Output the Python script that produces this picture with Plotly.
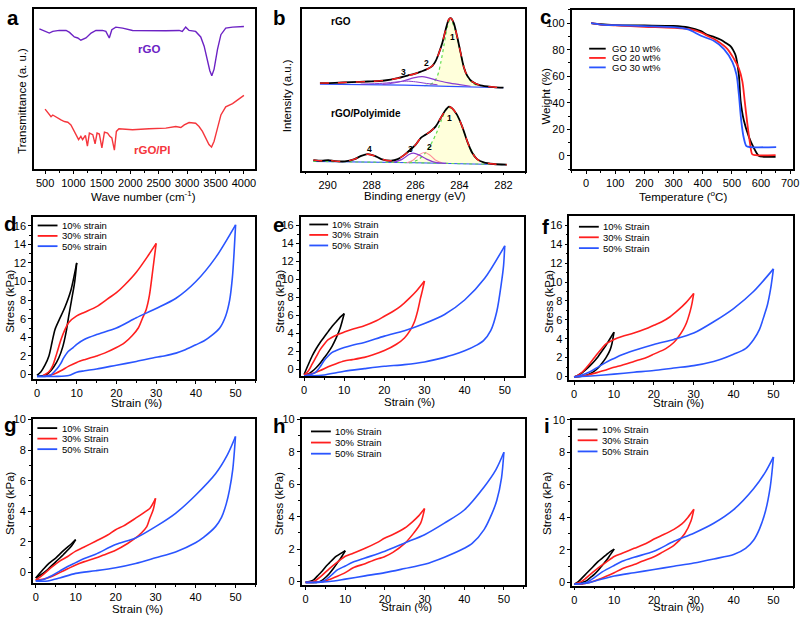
import plotly.graph_objects as go

W, H = 808, 619
FONT = "Liberation Sans, Arial, sans-serif"

# ---------------- DATA ----------------
# (a) FTIR
A_RGO_WN = [400, 575, 635, 750, 870, 930, 1015, 1075, 1130, 1220, 1310, 1395, 1510, 1570, 1630, 1675, 1745,
            1865, 2040, 2330, 2625, 2860, 2915, 2975, 3035, 3150, 3240, 3300, 3355, 3400, 3435, 3475, 3535,
            3595, 3680, 3800, 4000]
A_RGO_T = [86.6, 84, 85, 85.6, 85.6, 84.4, 81.6, 81, 79.6, 81, 84, 85.6, 85.6, 85, 81, 86, 87.6,
           87, 85.6, 85.4, 85.4, 85.6, 85, 87.6, 85.6, 85, 81.6, 76, 67, 61, 58, 62, 74,
           83, 87, 87.6, 88]
A_PI_WN = [500, 545, 605, 635, 720, 780, 840, 900, 955, 1015, 1055, 1090, 1130, 1160, 1210, 1245, 1280, 1340,
           1380, 1415, 1455, 1500, 1545, 1600, 1640, 1675, 1720, 1755, 1800, 2040, 2330, 2625, 2800, 2890,
           2950, 3035, 3150, 3210, 3270, 3330, 3385, 3430, 3475, 3535, 3595, 3680, 3800, 4000]
A_PI_T = [37.6, 35.6, 33, 34, 32, 31, 30, 29.6, 28, 24, 21, 19, 21, 19, 21.6, 15, 23, 22,
          16.4, 23, 22.4, 14, 23.6, 23, 21, 20, 12.6, 24, 25.6, 25, 25.6, 26, 27, 26.4,
          28, 29.4, 29, 27, 24, 20, 16, 14.4, 18, 26, 34, 39, 41, 46]

# (b) XPS C1s
B_RGO_BE = [290.35, 289.67, 288.92, 288.17, 287.41, 286.81, 286.36, 286.06, 285.76, 285.46, 285.23, 285.08,
            284.93, 284.78, 284.63, 284.48, 284.38, 284.26, 284.11, 283.95, 283.80, 283.65, 283.43, 283.05,
            282.45, 282.0]
B_RGO_I = [53.4, 53.6, 54, 54.4, 55, 56.4, 58, 59, 60.4, 62, 64, 67, 72, 78, 86, 92.4, 93, 90, 82, 72, 63, 58,
           54.4, 52, 51, 50.6]
B_RGO_BASE_BE = [290.35, 286.5, 284.5, 282.0]
B_RGO_BASE_I = [52.8, 52.2, 51.4, 50.6]
B_RGO_P1_BE = [285.6, 285.2, 285.0, 284.85, 284.7, 284.55, 284.45, 284.35, 284.2, 284.05, 283.9, 283.75, 283.6,
               283.4, 283.1]
B_RGO_P1_I = [51.8, 53.5, 58, 66, 77, 88, 91.6, 91, 86, 78, 69, 61.5, 56.5, 53.5, 51.5]
B_RGO_P2_BE = [287.5, 287.0, 286.5, 286.1, 285.7, 285.4, 285.0, 284.5, 284.0, 283.5]
B_RGO_P2_I = [52.6, 53.5, 55, 56.6, 57.4, 56.6, 55, 53.6, 52.5, 51.5]
B_RGO_P3_BE = [288.5, 287.5, 286.8, 286.4, 286.0, 285.5, 285.0]
B_RGO_P3_I = [52.8, 53.3, 54.2, 54.6, 54.2, 53.2, 52.4]

B_PI_BE = [290.65, 290.27, 289.97, 289.67, 289.22, 288.77, 288.47, 288.17, 287.86, 287.56, 287.11, 286.81,
           286.51, 286.21, 285.98, 285.76, 285.53, 285.31, 285.08, 284.86, 284.63, 284.48, 284.33, 284.11,
           283.88, 283.65, 283.43, 283.20, 282.90, 282.45, 281.85]
B_PI_I = [6.4, 6, 6.4, 5.8, 5.6, 7, 9, 10, 9, 7, 6, 7, 9.6, 13, 16, 20, 22, 24, 27, 32, 37, 39, 38, 34, 27, 18,
          11, 7, 5, 4, 3.6]
B_PI_BASE_BE = [290.65, 286.0, 281.85]
B_PI_BASE_I = [5.6, 4.8, 3.6]
B_PI_P1_BE = [286.3, 285.9, 285.6, 285.3, 285.0, 284.8, 284.55, 284.3, 284.1, 283.9, 283.65, 283.4, 283.2,
              282.9, 282.5]
B_PI_P1_I = [4.8, 6.5, 10, 16, 24.5, 31.5, 38.5, 37.5, 33.5, 27.5, 18, 11, 7, 5, 4]
B_PI_P2_BE = [286.4, 286.1, 285.85, 285.6, 285.35, 285.1, 284.8]
B_PI_P2_I = [4.8, 6.5, 9.5, 11, 9.5, 6.5, 4.7]
B_PI_P3_BE = [287.0, 286.6, 286.3, 286.1, 285.85, 285.5, 285.1, 284.6]
B_PI_P3_I = [5, 7, 9.8, 10.6, 9.6, 7, 5, 4.4]

# (c) TGA
C_LABELS = ["GO 10 wt%", "GO 20 wt%", "GO 30 wt%"]
C_T10 = [17, 50, 100, 200, 300, 350, 394, 416, 440, 462, 480, 496, 505, 513, 524, 530, 541, 558, 575, 592, 609, 650]
C_W10 = [100, 99.2, 98.6, 98.3, 97.9, 96.8, 94, 91.2, 89.5, 87.5, 85, 82.5, 79.5, 75.6, 61, 41.5, 26.8, 14.6, 6.1,
         0, -0.7, -0.7]
C_T20 = [17, 50, 100, 200, 300, 360, 394, 416, 450, 485, 507, 524, 536, 544, 553, 562, 570, 581, 650]
C_W20 = [100, 99, 98.3, 97.3, 96.5, 95.3, 93, 90.5, 86.6, 80.5, 73.2, 65.9, 56.1, 41.5, 24.4, 9.8, 1.2, 0.5, 0.5]
C_T30 = [17, 50, 100, 200, 300, 350, 394, 439, 473, 502, 516, 524, 532, 541, 550, 564, 652]
C_W30 = [100, 99, 98.5, 97.8, 97, 95.3, 90.5, 86.6, 80.5, 70.7, 61, 46.3, 26.8, 13.4, 7.3, 6.6, 6.6]

# (d)-(i) compression loops: strain (%) and stress (kPa), loading then unloading
D_LABELS = ["10% strain", "30% strain", "50% strain"]
S_LABELS = ["10% Strain", "30% Strain", "50% Strain"]

D10_X = [0, 1, 2, 3, 3.8, 4.5, 5.5, 7, 8.5, 10, 9.5, 8.7, 8, 7.3, 6.5, 5.5, 4.2, 3, 2, 1, 0]
D10_Y = [-0.1, 0.3, 1, 2, 3.5, 4.8, 5.8, 7.2, 9, 12, 10, 8, 6.3, 4.5, 3, 1.8, 0.8, 0.2, -0.1, -0.15, -0.15]
D30_X = [1.5, 3, 4, 5, 6, 7, 8, 10, 12, 15, 18, 20, 22, 25, 28, 30, 29.2, 28.3, 27.5, 26.6, 25.5, 24, 22, 20, 17,
         15, 12, 10, 8, 6, 4, 2.5, 1.5]
D30_Y = [-0.1, 0.3, 1, 2.3, 3.7, 4.8, 5.6, 6.3, 6.7, 7.3, 8.2, 8.8, 9.6, 11, 12.8, 14.1, 11.4, 8.5, 7, 6.1, 5.0,
         4.2, 3.4, 2.9, 2.3, 2.0, 1.6, 1.3, 0.9, 0.4, 0.0, -0.1, -0.1]
D50_X = [0, 2, 3.5, 5, 6, 6.6, 7.9, 9.1, 10, 12, 15, 20, 25, 30, 35, 40, 45, 50, 49.6, 49.2, 48.5, 47.5, 46, 44,
         42, 40, 37, 35, 32, 30, 25, 20, 15, 12, 10, 8, 5, 2, 0]
D50_Y = [-0.2, -0.2, -0.05, 0.6, 1.2, 1.7, 2.5, 2.9, 3.25, 3.8, 4.3, 5.0, 6.1, 7.1, 8.2, 10.0, 12.6, 16.1, 13,
         10.5, 8, 6.3, 5.0, 4.2, 3.6, 3.2, 2.6, 2.3, 2.0, 1.85, 1.4, 1.0, 0.6, 0.4, 0.25, -0.1, -0.2, -0.2, -0.2]

E10_X = [0, 1, 2, 3, 4, 5, 6, 7, 8, 9, 10, 9, 8, 7, 6, 5, 4, 3, 2, 1, 0]
E10_Y = [-0.55, 0.5, 1.5, 2.3, 3.0, 3.6, 4.2, 4.8, 5.3, 5.8, 6.2, 4.6, 3.5, 2.6, 1.9, 1.3, 0.7, 0.2, -0.2, -0.5,
         -0.6]
E30_X = [0, 1, 2, 3, 4, 5, 6, 8, 10, 12, 15, 18, 20, 22, 24, 26, 28, 30, 29.5, 29, 28.3, 27.5, 26.5, 25, 23, 20,
         17, 15, 12, 10, 8, 6, 4, 2, 0]
E30_Y = [-0.6, -0.2, 0.6, 1.4, 2.2, 2.8, 3.3, 3.8, 4.15, 4.45, 4.85, 5.4, 5.9, 6.4, 7.0, 7.8, 8.7, 9.8, 8.8, 7.9,
         6.5, 5.3, 4.4, 3.5, 2.8, 2.1, 1.6, 1.35, 1.1, 0.95, 0.65, 0.3, -0.1, -0.45, -0.6]
E50_X = [0, 2, 3, 4, 5, 6, 7, 8, 10, 12, 15, 20, 25, 30, 35, 40, 45, 50, 49.7, 49.2, 48, 46.5, 44.7, 43, 40, 37,
         35, 30, 25, 20, 15, 10, 8, 5, 2, 0]
E50_Y = [-0.7, -0.5, -0.25, 0.3, 1.0, 1.5, 1.9, 2.1, 2.44, 2.7, 3.0, 3.7, 4.3, 5.1, 6.1, 7.7, 10.1, 13.7, 11.5,
         9.7, 6.4, 4.3, 3.2, 2.7, 2.07, 1.6, 1.35, 0.84, 0.55, 0.36, 0.1, -0.18, -0.35, -0.6, -0.7, -0.7]

F10_X = [0, 1, 2, 3, 4, 5, 6, 7, 8, 9, 10, 9.5, 9, 8, 7, 6, 5, 4, 3, 2, 1, 0]
F10_Y = [-0.05, 0.15, 0.4, 0.75, 1.15, 1.6, 2.1, 2.7, 3.3, 4.0, 4.7, 3.5, 2.8, 2.0, 1.4, 0.9, 0.55, 0.3, 0.12,
         0.03, -0.02, -0.05]
F30_X = [0, 1, 2, 3, 4, 5, 6, 7, 8, 10, 12, 15, 18, 20, 22, 24, 26, 28, 30, 29.6, 29.1, 28.2, 27.4, 26, 25, 23,
         20, 18, 15, 12, 10, 8, 6, 4, 2, 0]
F30_Y = [-0.05, 0.15, 0.45, 0.9, 1.4, 1.95, 2.5, 3.0, 3.45, 3.93, 4.25, 4.6, 5.05, 5.43, 5.8, 6.3, 7.0, 7.8, 8.8,
         7.8, 6.9, 5.7, 5.0, 4.1, 3.6, 2.95, 2.37, 2.0, 1.6, 1.2, 0.97, 0.7, 0.45, 0.22, 0.05, -0.05]
F50_X = [0, 2, 4, 6, 8, 10, 12, 15, 20, 25, 30, 35, 40, 45, 50, 49.3, 48.5, 47.7, 46.5, 45, 43, 40, 37, 35, 30,
         25, 20, 15, 10, 5, 0]
F50_Y = [-0.05, 0.15, 0.5, 1.0, 1.5, 1.91, 2.3, 2.75, 3.4, 3.93, 4.6, 5.8, 7.2, 9.0, 11.4, 9.3, 7.6, 6.5, 5.0,
         3.9, 2.95, 2.35, 1.85, 1.6, 1.15, 0.9, 0.63, 0.45, 0.25, 0.08, -0.05]

G10_X = [0, 1, 2, 3.3, 5, 7, 9, 10, 9, 7, 5, 3, 1, 0]
G10_Y = [-0.35, -0.05, 0.25, 0.6, 0.95, 1.45, 1.9, 2.15, 1.75, 1.2, 0.7, 0.2, -0.2, -0.35]
G30_X = [0, 2, 4, 6, 8, 10, 12, 15, 18, 20, 22, 25, 27, 28.6, 30, 29.4, 28.5, 27.8, 26.5, 25, 23, 20, 17, 15, 12,
         10, 8, 6, 4, 2, 0]
G30_Y = [-0.5, -0.1, 0.35, 0.75, 1.05, 1.4, 1.65, 2.05, 2.45, 2.8, 3.05, 3.55, 3.9, 4.2, 4.84, 4.1, 3.5, 3.0, 2.6,
         2.26, 1.9, 1.46, 1.15, 0.95, 0.7, 0.5, 0.25, 0.0, -0.25, -0.42, -0.5]
G50_X = [0, 2, 4, 6, 8, 10, 12, 15, 20, 25, 30, 35, 40, 45, 48, 50, 49.3, 48.5, 47.7, 46.5, 45, 42, 40, 35, 30,
         25, 20, 15, 10, 6, 3, 0]
G50_Y = [-0.55, -0.45, -0.2, 0.1, 0.4, 0.65, 0.9, 1.2, 1.83, 2.26, 3.0, 3.87, 5.05, 6.45, 7.7, 8.88, 6.7, 5.4,
         4.5, 3.6, 3.0, 2.3, 1.95, 1.35, 0.97, 0.6, 0.32, 0.12, -0.05, -0.35, -0.55, -0.55]

H10_X = [0, 1, 2, 3, 4, 5, 6, 7, 7.75, 9, 10, 9, 8, 7, 6, 5, 4, 3, 2, 0]
H10_Y = [-0.05, 0.0, 0.1, 0.35, 0.6, 0.9, 1.15, 1.4, 1.56, 1.75, 1.9, 1.5, 1.15, 0.8, 0.5, 0.25, 0.05, -0.05,
         -0.05, -0.05]
H30_X = [0, 2, 4, 6, 8, 10, 12, 15, 18, 20, 22, 25, 27, 28.5, 30, 29, 27.3, 25, 22, 20, 17, 15, 12, 10, 8, 6, 4,
         2, 0]
H30_Y = [-0.05, 0.0, 0.35, 0.8, 1.2, 1.56, 1.75, 2.05, 2.4, 2.68, 2.9, 3.3, 3.7, 4.05, 4.5, 3.6, 3.0, 2.35, 1.8,
         1.55, 1.3, 1.1, 0.85, 0.55, 0.32, 0.12, -0.02, -0.05, -0.05]
H50_X = [0, 3, 5, 7, 8, 10, 12, 15, 20, 25, 30, 35, 40, 45, 48, 50, 49.4, 48.2, 47, 45, 42, 40, 35, 30, 25, 20,
         15, 10, 6, 3, 0]
H50_Y = [-0.05, -0.05, 0.1, 0.5, 0.72, 0.96, 1.2, 1.45, 1.87, 2.38, 2.89, 3.6, 4.41, 5.83, 6.9, 7.97, 6.4, 5.0,
         4.2, 3.2, 2.35, 2.05, 1.5, 1.06, 0.8, 0.55, 0.35, 0.15, 0.0, -0.05, -0.05]

I10_X = [0, 1, 2, 3, 4, 5, 6, 7, 8, 9, 10, 9, 8, 7, 6, 5, 4, 3, 2, 1, 0]
I10_Y = [-0.1, 0.05, 0.3, 0.55, 0.8, 1.05, 1.3, 1.5, 1.7, 1.9, 2.05, 1.7, 1.35, 1.05, 0.75, 0.5, 0.3, 0.1, 0.0,
         -0.1, -0.1]
I30_X = [0, 2, 4, 6, 8, 10, 12, 15, 18, 20, 22, 25, 27, 28.5, 30, 29.3, 27.7, 25, 22, 20, 17, 15, 12, 10, 8, 6, 4,
         2, 0]
I30_Y = [-0.1, 0.1, 0.5, 0.9, 1.25, 1.6, 1.8, 2.1, 2.4, 2.67, 2.9, 3.27, 3.6, 4.0, 4.5, 3.8, 3.0, 2.28, 1.85,
         1.58, 1.3, 1.1, 0.85, 0.6, 0.38, 0.18, 0.02, -0.1, -0.1]
I50_X = [0, 3, 5, 7, 10, 12, 15, 20, 25, 30, 35, 40, 45, 48, 50, 49.2, 48, 46.5, 45, 43, 40, 35, 30, 25, 20, 15,
         10, 6, 3, 0]
I50_Y = [-0.1, 0.0, 0.3, 0.65, 1.05, 1.3, 1.55, 1.92, 2.53, 3.03, 3.64, 4.48, 5.76, 6.8, 7.72, 5.9, 4.4, 3.3,
         2.6, 2.1, 1.72, 1.45, 1.2, 1.0, 0.8, 0.6, 0.4, 0.15, -0.05, -0.1]

# ---------------- STYLE / LAYOUT ----------------
BLACK, RED, BLUE = "#000000", "#ff1f1f", "#2a55ff"
PURPLE_A, RED_A = "#6c22c4", "#f5363c"


def px(x):
    return x / W


def py(y):
    return 1 - y / H


fig = go.Figure()
layout = dict(width=W, height=H, margin=dict(l=0, r=0, t=0, b=0), showlegend=False,
              paper_bgcolor="white", plot_bgcolor="white", font=dict(family=FONT, color="black"))
shapes, annotations = [], []

PANELS = [
    # name, idx, box(px: x0,x1,y0,y1), xrange, yrange, xtick(tick0,dtick,minor), ytick
    ("a", 1, (33, 256.5, 3.5, 165.5), [300, 4200], [1, 98.4], (500, 500, 250), None),
    ("b", 2, (304, 529, 3.5, 167), [291.15, 281.0], [0, 98.4], (282, 2, 1), None),
    ("c", 3, (575.5, 799, 4, 165.5), [-50, 710], [-10, 110], (0, 100, 50), (0, 20, 10)),
    ("d", 4, (32.3, 256.7, 214, 378.3), [-1, 55], [-0.46, 16.95], (0, 10, 5), (0, 2, 1)),
    ("e", 5, (302.3, 528, 214, 375.7), [-0.85, 54.9], [-0.74, 16.9], (0, 10, 5), (0, 2, 1)),
    ("f", 6, (573.3, 799.3, 213.3, 380), [-1.2, 55], [-0.42, 16.98], (0, 10, 5), (0, 2, 1)),
    ("g", 7, (32, 256.7, 419, 586), [-0.75, 55], [-0.71, 10.03], (0, 10, 5), (0, 2, 1)),
    ("h", 8, (303.3, 528.3, 419, 587.3), [-1, 55.25], [-0.2, 10.03], (0, 10, 5), (0, 2, 1)),
    ("i", 9, (576, 799.3, 420, 588.3), [-0.6, 55], [-0.2, 10.0], (0, 10, 5), (0, 2, 1)),
]

TICKFONT = dict(family=FONT, size=11, color="black")
for name, n, box, xr, yr, xt, yt in PANELS:
    sfx = "" if n == 1 else str(n)
    xa = dict(domain=[px(box[0]), px(box[1])], range=xr, anchor="y" + sfx, showline=True, linecolor="black",
              linewidth=1.5, mirror=True, showgrid=False, zeroline=False, ticks="outside", ticklen=3,
              tickwidth=1, tickcolor="black", tick0=xt[0], dtick=xt[1], tickfont=TICKFONT,
              minor=dict(ticks="outside", ticklen=2, tickwidth=1, tickcolor="black", dtick=xt[2], tick0=xt[0]))
    ya = dict(domain=[py(box[3]), py(box[2])], range=yr, anchor="x" + sfx, showline=True, linecolor="black",
              linewidth=1.5, mirror=True, showgrid=False, zeroline=False, tickfont=TICKFONT)
    if yt is None:
        ya.update(showticklabels=False, ticks="")
    else:
        ya.update(ticks="outside", ticklen=3, tickwidth=1, tickcolor="black", tick0=yt[0], dtick=yt[1],
                  minor=dict(ticks="outside", ticklen=2, tickwidth=1, tickcolor="black", dtick=yt[2],
                             tick0=yt[0]))
    layout["xaxis" + sfx] = xa
    layout["yaxis" + sfx] = ya


def ax(n):
    s = "" if n == 1 else str(n)
    return dict(xaxis="x" + s, yaxis="y" + s)


def line(x, y, n, color, width=1.6, dash="solid", shape="spline", **kw):
    fig.add_trace(go.Scatter(x=x, y=y, mode="lines", line=dict(color=color, width=width, dash=dash, shape=shape,
                                                                 smoothing=0.8), hoverinfo="skip", **ax(n), **kw))


# (a)
line(A_RGO_WN, A_RGO_T, 1, PURPLE_A, 1.4, shape="linear")
line(A_PI_WN, A_PI_T, 1, RED_A, 1.4, shape="linear")

# (b)
for (bx, by) in [(B_RGO_P1_BE, B_RGO_P1_I), (B_PI_P1_BE, B_PI_P1_I)]:
    line(bx, by, 2, "#62dd4e", 1.2, dash="dot", fill="toself", fillcolor="rgba(255,255,190,0.55)")
line(B_RGO_BASE_BE, B_RGO_BASE_I, 2, "#3050ff", 1.1, shape="linear")
line(B_PI_BASE_BE, B_PI_BASE_I, 2, "#3050ff", 1.1, shape="linear")
line(B_PI_BASE_BE, B_PI_BASE_I, 2, "#62dd4e", 1.1, dash="dot", shape="linear")
line(B_RGO_P2_BE, B_RGO_P2_I, 2, "#8a3ccf", 1.2)
line(B_RGO_P3_BE, B_RGO_P3_I, 2, "#8a3ccf", 1.0)
line(B_PI_P2_BE, B_PI_P2_I, 2, "#ff8f9a", 1.1)
line(B_PI_P3_BE, B_PI_P3_I, 2, "#8a3ccf", 1.2)
for (bx, by) in [(B_RGO_BE, B_RGO_I), (B_PI_BE, B_PI_I)]:
    line(bx, by, 2, BLACK, 1.8)
    line(bx, by, 2, RED, 1.4, dash="dash")

# (c)
for tx, wy, col in [(C_T10, C_W10, BLACK), (C_T20, C_W20, RED), (C_T30, C_W30, BLUE)]:
    line(tx, wy, 3, col, 1.8, shape="spline")

# (d)-(i)
LOOPS = {
    4: [(D10_X, D10_Y), (D30_X, D30_Y), (D50_X, D50_Y)],
    5: [(E10_X, E10_Y), (E30_X, E30_Y), (E50_X, E50_Y)],
    6: [(F10_X, F10_Y), (F30_X, F30_Y), (F50_X, F50_Y)],
    7: [(G10_X, G10_Y), (G30_X, G30_Y), (G50_X, G50_Y)],
    8: [(H10_X, H10_Y), (H30_X, H30_Y), (H50_X, H50_Y)],
    9: [(I10_X, I10_Y), (I30_X, I30_Y), (I50_X, I50_Y)],
}
for n, loops in LOOPS.items():
    for (lx, ly), col in zip(loops, [BLACK, RED, BLUE]):
        k = lx.index(max(lx))
        line(lx[:k + 1], ly[:k + 1], n, col, 1.6)
        line(lx[k:], ly[k:], n, col, 1.6)


# ---------------- text ----------------
def text(x, y, s, size=11, bold=False, color="black", xanchor="center", yanchor="middle", angle=0, ref=None):
    a = dict(text=("<b>%s</b>" % s) if bold else s, showarrow=False, xanchor=xanchor, yanchor=yanchor,
             font=dict(family=FONT, size=size, color=color), textangle=angle)
    if ref is None:
        a.update(xref="paper", yref="paper", x=px(x), y=py(y))
    else:
        s_ = "" if ref == 1 else str(ref)
        a.update(xref="x" + s_, yref="y" + s_, x=x, y=y)
    annotations.append(a)


# panel letters
for L, x, y in [("a", 4, 11.5), ("b", 272, 11.5), ("c", 542, 10.5), ("d", 1, 220.5), ("e", 272, 221.5),
                ("f", 544, 223.5), ("g", 1, 424.5), ("h", 272, 425.5), ("i", 546, 425.5)]:
    text(x, y, L, size=20.5, bold=True, xanchor="left")

# axis titles
TS = 11.5
for x, y, s in [(143.3, 193, "Wave number (cm<sup>-1</sup>)"), (418, 193, "Binding energy (eV)"),
                (688, 193, "Temperature (<sup>o</sup>C)"),
                (137, 403, "Strain (%)"), (411.7, 401.5, "Strain (%)"), (683, 402.5, "Strain (%)"),
                (137.7, 611.5, "Strain (%)"), (409.3, 609.5, "Strain (%)"), (683, 610, "Strain (%)")]:
    text(x, y, s, size=TS)
for x, y, s in [(21.7, 96.7, "Transmittance (a. u.)"), (289.3, 90.7, "Intensity (a.u.)"),
                (550, 91.7, "Weight (%)"),
                (8.3, 300, "Stress (kPa)"), (280.7, 300, "Stress (kPa)"), (552.3, 300, "Stress (kPa)"),
                (8.3, 505, "Stress (kPa)"), (280, 505, "Stress (kPa)"), (550, 505, "Stress (kPa)")]:
    text(x, y, s, size=TS, angle=-90)

# in-plot labels
text(2332, 74, "rGO", size=11.5, bold=True, color=PURPLE_A, ref=1)
text(2390, 12.6, "rGO/PI", size=11.5, bold=True, color=RED_A, ref=1)
text(289.95, 91, "rGO", size=10, bold=True, xanchor="left", ref=2)
text(289.95, 35, "rGO/Polyimide", size=10, bold=True, xanchor="left", ref=2)
for x, y, s in [(284.3, 81.4, "1"), (285.5, 65.6, "2"), (286.54, 60.4, "3"),
                (288.1, 13.4, "4"), (286.24, 13.4, "3"), (285.35, 14.6, "2"), (284.45, 32, "1")]:
    text(x, y, s, size=8.5, bold=True, ref=2)


# legends (drawn as key lines + labels)
def legend(x0, x1, ys, tx, labels, size=9.5):
    for yy, lab, col in zip(ys, labels, [BLACK, RED, BLUE]):
        shapes.append(dict(type="line", xref="paper", yref="paper", x0=px(x0), x1=px(x1), y0=py(yy), y1=py(yy),
                           line=dict(color=col, width=1.8)))
        text(tx, yy, lab, size=size, xanchor="left")


legend(593.3, 610, [43.3, 52.7, 62.3], 614, C_LABELS, 9.5)
legend(37, 57, [222.7, 233.3, 243.7], 60, D_LABELS)
legend(311, 330, [221.7, 232.3, 243], 332.3, S_LABELS)
legend(583, 603, [224, 234.7, 245.7], 605.7, S_LABELS)
legend(36.7, 56.7, [428.3, 439, 449.7], 59.3, S_LABELS)
legend(312.7, 332.7, [431.7, 443, 454.3], 335.3, S_LABELS)
legend(581.7, 601.7, [429.7, 440.7, 452], 604.3, S_LABELS)

layout["shapes"] = shapes
layout["annotations"] = annotations
fig.update_layout(**layout)
fig.write_html("out.html", config={"displayModeBar": False},
               post_script="document.body.style.margin='0px';document.body.style.overflow='hidden';")
